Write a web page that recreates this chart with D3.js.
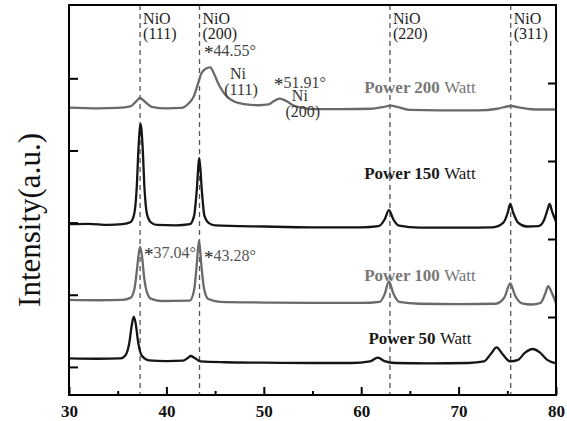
<!DOCTYPE html>
<html>
<head>
<meta charset="utf-8">
<script src="https://cdn.jsdelivr.net/npm/d3@7"></script>
<style>
  body { margin: 0; background: #fff; }
  svg text, svg tspan { font-family: "Liberation Serif", "Times New Roman", serif; }
</style>
</head>
<body>
<div id="chart"></div>
<script>
// 2-theta ticks
var xTicks = [30, 40, 50, 60, 70, 80];
var xMinorTicks = [35, 45, 55, 65, 75];
var yTicksLeft = [7.2, 25.7, 44.2, 62.7, 81.2];
var yTicksRight = [20, 40, 60, 80];

// reference peak positions (dashed lines)
var nioPeaks = [37.3, 43.4, 62.95, 75.35];
var nioNames = ["(111)", "(200)", "(220)", "(311)"];

// traces: [2theta, intensity (a.u., offset)]
var power200 = [[30, 73.7], [33, 73.5], [35, 73.6], [36.3, 74.0], [36.9, 75.3], [37.3, 76.2], [37.8, 75.2],
  [38.5, 73.9], [40, 73.5], [41.5, 73.6], [42.3, 74.8], [42.8, 76.5], [43.2, 79.5], [43.6, 82.5],
  [44.0, 83.6], [44.5, 84.0], [44.9, 82.3], [45.3, 80.0], [45.8, 77.8], [46.3, 76.3], [47.0, 75.2],
  [48, 74.6], [49.5, 74.3], [50.5, 74.5], [51.0, 75.3], [51.6, 76.0], [52.3, 75.4], [53.0, 74.3],
  [54, 73.6], [55, 73.3], [58, 73.3], [61, 73.4], [62.2, 73.8], [63.0, 74.2], [63.8, 73.8], [65, 73.1],
  [68, 73.0], [72, 73.0], [74.0, 73.4], [75.3, 74.1], [76.5, 73.6], [78, 73.2], [80, 73.2]];

var power150 = [[30, 43.8], [32, 43.9], [34, 43.6], [35.5, 43.8], [36.3, 44.3], [36.7, 46.5], [36.95, 53],
  [37.15, 64], [37.35, 69.5], [37.55, 64], [37.75, 53], [38.0, 46.5], [38.4, 44.3], [39, 43.6], [41, 43.5],
  [42.4, 43.8], [42.85, 46], [43.1, 52], [43.38, 60.7], [43.65, 52], [43.9, 46], [44.4, 44], [45, 43.5],
  [50, 43.2], [55, 43.0], [60, 43.0], [61.8, 43.3], [62.4, 45], [62.85, 47.4], [63.3, 45], [63.9, 43.4],
  [66, 42.9], [70, 42.9], [73.5, 43.0], [74.6, 44.2], [75.05, 46.8], [75.3, 49.0], [75.6, 46.8],
  [76.1, 44.2], [77, 43.2], [78.2, 43.3], [78.8, 45.0], [79.1, 47.3], [79.35, 49.0], [79.6, 47.0], [80, 44.5]];

var power100 = [[30, 24.4], [33, 24.3], [35.5, 24.4], [36.3, 24.9], [36.7, 27], [36.95, 31.5], [37.15, 36],
  [37.3, 38.0], [37.5, 35.5], [37.7, 30.5], [37.95, 26.8], [38.4, 24.7], [39.5, 24.1], [42.4, 24.2],
  [42.85, 27], [43.1, 33], [43.35, 39.6], [43.6, 33], [43.85, 27.5], [44.3, 24.6], [45.5, 23.9],
  [50, 23.7], [55, 23.6], [60, 23.6], [61.9, 23.9], [62.4, 25.8], [62.85, 29.1], [63.3, 26], [63.9, 23.9],
  [66, 23.4], [70, 23.3], [73.8, 23.4], [74.7, 25], [75.3, 28.6], [75.8, 25.5], [76.5, 23.5], [77.5, 23.2],
  [78.4, 23.6], [78.9, 26], [79.2, 27.9], [79.5, 26.6], [80, 23.5]];

var power50 = [[30, 9.4], [33, 9.3], [35.3, 9.4], [35.8, 10.2], [36.2, 13.5], [36.45, 18], [36.65, 20.1],
  [36.85, 18.3], [37.1, 13.5], [37.5, 10], [38.2, 8.9], [40, 8.7], [41.7, 8.8], [42.2, 9.5], [42.5, 10.0],
  [42.9, 9.5], [43.5, 8.6], [46, 8.4], [50, 8.3], [55, 8.2], [59, 8.2], [60.9, 8.6], [61.7, 9.6],
  [62.4, 8.7], [63.5, 8.2], [67, 8.1], [71, 8.2], [72.6, 8.6], [73.3, 10.5], [73.9, 12.2], [74.5, 10.5],
  [75.3, 8.6], [76.1, 9.0], [76.8, 10.8], [77.6, 11.8], [78.3, 11.0], [79.1, 9.0], [80, 8.1]];

var seriesNames = ["200", "150", "100", "50"];

var width = 567,
  height = 421,
  plotL = 69, plotR = 556, plotT = 5, plotB = 395;

var serif = "'Liberation Serif', 'Times New Roman', serif";

var svg = d3.select("#chart").append("svg")
  .attr("width", width)
  .attr("height", height)
  .attr("font-family", serif)
  .style("background", "#fff");

var x = d3.scaleLinear().domain([30, 80]).range([plotL, plotR]);
var y = d3.scaleLinear().domain([0, 100]).range([plotB, plotT]);

// dashed reference lines
svg.selectAll(".ref")
  .data(nioPeaks)
  .enter().append("line")
  .attr("x1", function(d) { return x(d); })
  .attr("x2", function(d) { return x(d); })
  .attr("y1", plotT)
  .attr("y2", plotB)
  .attr("stroke", "#555")
  .attr("stroke-width", 1.3)
  .attr("stroke-dasharray", "5,4");

var line = d3.line()
  .x(function(d) { return x(d[0]); })
  .y(function(d) { return y(d[1]); })
  .curve(d3.curveMonotoneX);

var traces = [power200, power150, power100, power50];
var traceColors = ["#6a6a6a", "#151515", "#6a6a6a", "#151515"];

svg.selectAll(".trace")
  .data(traces)
  .enter().append("path")
  .attr("class", "trace")
  .attr("d", line)
  .attr("fill", "none")
  .attr("stroke", function(d, i) { return traceColors[i]; })
  .attr("stroke-width", 2.3)
  .attr("stroke-linejoin", "round");

// axes with inward ticks
var xAxis = svg.append("g")
  .attr("transform", "translate(0," + plotB + ")")
  .call(d3.axisBottom(x).tickValues(xTicks).tickSize(-8).tickPadding(10));
svg.append("g")
  .attr("transform", "translate(0," + plotB + ")")
  .call(d3.axisBottom(x).tickValues(xMinorTicks).tickSize(-4).tickFormat(""));
svg.append("g")
  .attr("transform", "translate(" + plotL + ",0)")
  .call(d3.axisLeft(y).tickValues(yTicksLeft).tickSize(-9).tickFormat(""));
svg.append("g")
  .attr("transform", "translate(" + plotR + ",0)")
  .call(d3.axisRight(y).tickValues(yTicksRight).tickSize(-8).tickFormat(""));

svg.selectAll(".domain").remove();
svg.selectAll(".tick line").attr("stroke", "#000").attr("stroke-width", 2);
svg.selectAll("g").attr("font-family", serif);
xAxis.selectAll("text")
  .attr("font-size", 17)
  .attr("font-weight", "bold")
  .attr("fill", "#111");

svg.append("rect")
  .attr("x", plotL)
  .attr("y", plotT)
  .attr("width", plotR - plotL)
  .attr("height", plotB - plotT)
  .attr("fill", "none")
  .attr("stroke", "#000")
  .attr("stroke-width", 2);

// y title
svg.append("text")
  .attr("transform", "translate(40,220) rotate(-90)")
  .attr("text-anchor", "middle")
  .attr("font-size", 31)
  .attr("fill", "#111")
  .text("Intensity(a.u.)");

// NiO labels next to the dashed lines
nioPeaks.forEach(function(p, i) {
  var t = svg.append("text")
    .attr("font-size", 16)
    .attr("fill", "#222");
  t.append("tspan").attr("x", x(p) + 3).attr("y", 23.5).text("NiO");
  t.append("tspan").attr("x", x(p) + 3).attr("y", 38.5).text(nioNames[i]);
});

// peak position notes
var notes = [
  { text: "44.55°", at: 43.85, v: 86.8, col: "#444" },
  { text: "51.91°", at: 51.05, v: 78.8, col: "#444" },
  { text: "37.04°", at: 37.7, v: 35.1, col: "#555" },
  { text: "43.28°", at: 43.85, v: 34.4, col: "#555" }
];
notes.forEach(function(n) {
  var t = svg.append("text")
    .attr("x", x(n.at))
    .attr("y", y(n.v))
    .attr("font-size", 16)
    .attr("fill", n.col);
  t.append("tspan").attr("font-size", 19).attr("fill", "#222").attr("dy", 3).text("*");
  t.append("tspan").attr("dy", -3).text(n.text);
});

var niLabels = [
  { at: 47.35, v: 81.0, a: "Ni", b: "(111)" },
  { at: 53.7, v: 75.3, a: "Ni", b: "(200)" }
];
niLabels.forEach(function(n) {
  var t = svg.append("text")
    .attr("text-anchor", "middle")
    .attr("font-size", 16)
    .attr("fill", "#333");
  t.append("tspan").attr("x", x(n.at)).attr("y", y(n.v)).text(n.a);
  t.append("tspan").attr("x", x(n.at) + 3).attr("y", y(n.v) + 16).text(n.b);
});

// series labels
var labelV = [77.5, 55.3, 29.3, 13.0];
var labelColors = ["#777", "#1a1a1a", "#777", "#1a1a1a"];
seriesNames.forEach(function(s, i) {
  var t = svg.append("text")
    .attr("x", 420)
    .attr("y", y(labelV[i]))
    .attr("text-anchor", "middle")
    .attr("font-size", 17)
    .attr("fill", labelColors[i]);
  t.append("tspan").attr("font-weight", "bold").text("Power " + s + " ");
  t.append("tspan").text("Watt");
});
</script>
</body>
</html>
